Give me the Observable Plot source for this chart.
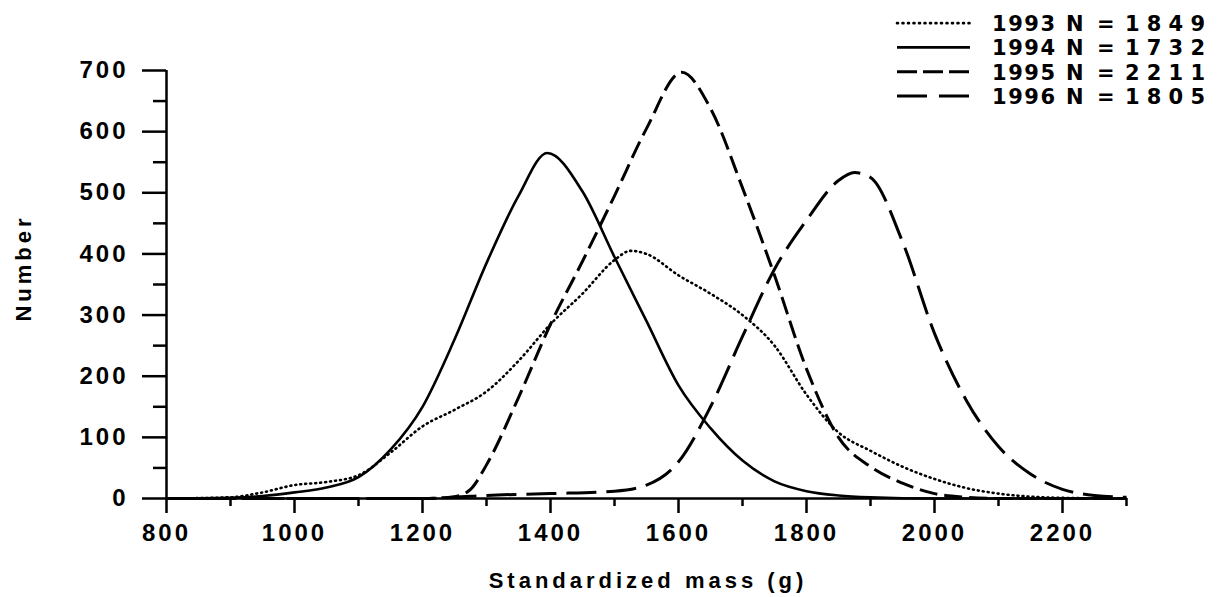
<!DOCTYPE html>
<html><head><meta charset="utf-8">
<script src="https://cdn.jsdelivr.net/npm/d3@7"></script>
<script src="https://cdn.jsdelivr.net/npm/@observablehq/plot@0.6"></script>
<style>
body{margin:0;background:#fff;}
#wrap{position:relative;width:1218px;height:597px;overflow:hidden;}
#legend{position:absolute;left:0;top:0;pointer-events:none;}
</style></head><body><div id="wrap"></div>
<script>
// ---- data ----
const years = ["1993", "1994", "1995", "1996"];
const counts = [1849, 1732, 2211, 1805];

const mass1993 = [800,900,950,1000,1050,1100,1150,1200,1250,1300,1350,1400,1450,1500,1525,1550,1600,1650,1700,1750,1800,1850,1900,1950,2000,2050,2100,2150,2200,2300];
const num1993  = [0,2,10,22,27,38,75,118,145,175,225,285,335,390,405,400,365,335,300,250,170,108,78,52,32,17,8,3,1,0];

const mass1994 = [800,900,950,1000,1050,1100,1150,1200,1250,1300,1350,1395,1450,1500,1550,1600,1650,1700,1750,1800,1850,1900,2000,2300];
const num1994  = [0,1,4,10,18,35,80,150,260,385,495,565,502,395,290,185,115,62,28,12,5,2,0,0];

const mass1995 = [800,1200,1250,1275,1300,1350,1400,1450,1500,1550,1605,1650,1700,1750,1800,1850,1900,1950,2000,2050,2100,2300];
const num1995  = [0,0,3,15,55,165,285,388,495,605,697,638,508,365,212,100,52,25,8,2,0,0];

const mass1996 = [800,1200,1250,1300,1400,1500,1550,1600,1650,1700,1750,1800,1850,1875,1900,1950,2000,2050,2100,2150,2200,2250,2300];
const num1996  = [0,0,2,5,8,12,22,60,150,265,375,455,520,533,525,420,270,160,85,40,15,5,2];

const yTicks = [0,100,200,300,400,500,600,700];
const yMinor = [50,150,250,350,450,550,650];
const xTicks = [800,1000,1200,1400,1600,1800,2000,2200];
const xMinor = [900,1100,1300,1500,1700,1900,2100,2300];

const xTitle = "Standardized mass (g)";
const yTitle = "Number";

// ---- styles ----
const styles = [
  {dash: "1,4", width: 2.6, cap: "round"},
  {dash: null, width: 2.6, cap: "butt"},
  {dash: "18,7", width: 3, cap: "butt"},
  {dash: "30,10", width: 3, cap: "butt"}
];

const seriesMass = [mass1993, mass1994, mass1995, mass1996];
const seriesNum = [num1993, num1994, num1995, num1996];
const rows = years.map((yr, k) => seriesMass[k].map((m, i) => ({year: yr, mass: m, n: seriesNum[k][i]})));

const font = "'Liberation Sans', Arial, Helvetica, sans-serif";

const chart = Plot.plot({
  width: 1218,
  height: 597,
  marginLeft: 166,
  marginRight: 92,
  marginTop: 70,
  marginBottom: 99,
  style: {fontFamily: font, background: "#fff", color: "#000"},
  x: {domain: [800, 2300]},
  y: {domain: [0, 700]},
  marks: [
    Plot.axisY({ticks: yTicks, tickSize: 24, tickPadding: 14, fontSize: 24, fontWeight: "bold", strokeWidth: 2.5, label: null, tickFormat: d => String(d)}),
    Plot.axisY({ticks: yMinor, tickSize: 13, text: null, strokeWidth: 2.5, label: null}),
    Plot.axisX({ticks: xTicks, tickSize: 15, tickPadding: 10, fontSize: 24, fontWeight: "bold", strokeWidth: 2.5, label: null, tickFormat: d => String(d)}),
    Plot.axisX({ticks: xMinor, tickSize: 8, text: null, strokeWidth: 2.5, label: null}),
    Plot.ruleX([800], {y1: 0, y2: 700, strokeWidth: 2.5}),
    Plot.ruleY([0], {strokeWidth: 2.5}),
    ...rows.map((r, k) => Plot.line(r, {
      x: "mass", y: "n", curve: "monotone-x", stroke: "#000",
      strokeWidth: styles[k].width,
      strokeDasharray: styles[k].dash,
      strokeLinecap: styles[k].cap
    }))
  ]
});

const wrap = document.getElementById("wrap");
wrap.appendChild(chart);
const svg = d3.select(chart);

// tick label typography (bold, widely spaced)
svg.selectAll("text")
  .style("font-size", "24px")
  .style("font-weight", "bold")
  .style("letter-spacing", "3px")
  .attr("fill", "#000");

// axis titles
svg.append("text")
  .attr("x", 648).attr("y", 588)
  .attr("text-anchor", "middle")
  .attr("font-size", 22).attr("font-weight", "bold").attr("fill", "#000")
  .style("letter-spacing", "4px")
  .text(xTitle);
svg.append("text")
  .attr("transform", "translate(31,268) rotate(-90)")
  .attr("text-anchor", "middle")
  .attr("font-size", 22).attr("font-weight", "bold").attr("fill", "#000")
  .style("letter-spacing", "4px")
  .text(yTitle);

// ---- legend overlay ----
const leg = d3.select(wrap).append("svg").attr("id", "legend").attr("width", 1218).attr("height", 120);
const rowY = d3.scaleBand().domain(years).range([11, 108]);
const legDash = ["1,4.5", null, "20,6", "30,12"];
years.forEach((yr, k) => {
  const y = rowY(yr) + rowY.bandwidth() / 2;
  leg.append("line").attr("x1", 897).attr("x2", 970).attr("y1", y).attr("y2", y)
    .attr("stroke", "#000").attr("stroke-width", styles[k].width)
    .attr("stroke-dasharray", legDash[k])
    .attr("stroke-linecap", styles[k].cap);
  const g = leg.append("g").attr("font-family", "'DejaVu Sans', sans-serif").attr("font-weight", "bold")
    .attr("font-size", 21).attr("fill", "#000");
  g.append("text").attr("x", 992).attr("y", y + 8).attr("textLength", 63).attr("lengthAdjust", "spacing").text(yr);
  g.append("text").attr("x", 1066).attr("y", y + 8).text("N");
  g.append("text").attr("x", 1097).attr("y", y + 8).text("=");
  g.append("text").attr("x", 1125).attr("y", y + 8).attr("textLength", 80).attr("lengthAdjust", "spacing").text(String(counts[k]));
});
</script></body></html>
